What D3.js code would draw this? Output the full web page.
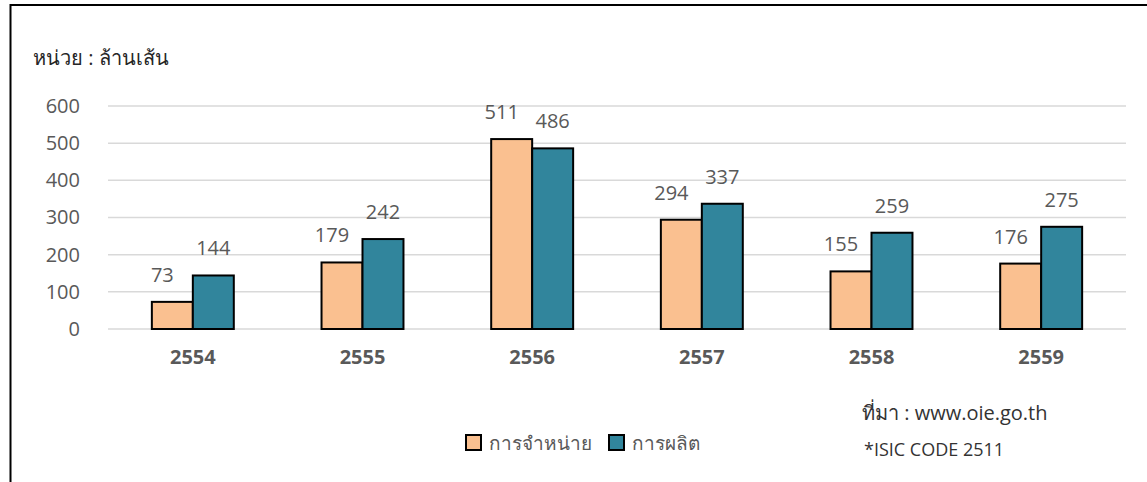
<!DOCTYPE html>
<html>
<head>
<meta charset="utf-8">
<script src="https://cdn.jsdelivr.net/npm/d3@7/dist/d3.min.js"></script>
<style>
  body { margin: 0; background: #fff; }
  svg { display: block; font-family: "Open Sans", "Noto Sans", sans-serif; }
</style>
</head>
<body>
<svg id="chart"></svg>
<script>
const WIDTH = 1147;
const HEIGHT = 482;
const PLOT_LEFT = 108;
const PLOT_RIGHT = 1126;
const PLOT_TOP = 106;
const PLOT_BOTTOM = 329;

// data
const years = ["2554", "2555", "2556", "2557", "2558", "2559"];
const seriesNames = ["การจำหน่าย", "การผลิต"];
const sales = [73, 179, 511, 294, 155, 176];
const production = [144, 242, 486, 337, 259, 275];
const yTicks = [0, 100, 200, 300, 400, 500, 600];
const colors = ["#FAC090", "#31859C"];

const rows = years.map((y, i) => ({ year: y, values: [sales[i], production[i]] }));

const svg = d3.select("#chart").attr("width", WIDTH).attr("height", HEIGHT);

// frame (only top and left edges are visible)
svg.append("line").attr("x1", 10).attr("x2", WIDTH).attr("y1", 5).attr("y2", 5)
   .attr("stroke", "#000").attr("stroke-width", 2);
svg.append("line").attr("x1", 10.5).attr("x2", 10.5).attr("y1", 4).attr("y2", HEIGHT)
   .attr("stroke", "#000").attr("stroke-width", 2);

const xScale = d3.scaleBand()
   .domain(years)
   .range([PLOT_LEFT, PLOT_RIGHT])
   .paddingInner(0.517)
   .paddingOuter(0.2585);
const xInner = d3.scaleBand()
   .domain([0, 1])
   .range([0, xScale.bandwidth()]);
const yScale = d3.scaleLinear()
   .domain([0, 600])
   .range([PLOT_BOTTOM, PLOT_TOP]);

// gridlines
svg.append("g")
   .selectAll("line")
   .data(yTicks)
   .join("line")
   .attr("x1", PLOT_LEFT).attr("x2", PLOT_RIGHT)
   .attr("y1", d => yScale(d)).attr("y2", d => yScale(d))
   .attr("stroke", "#d9d9d9").attr("stroke-width", 1.5);

// y axis labels
const gy = svg.append("g")
   .attr("transform", `translate(${PLOT_LEFT - 28},0)`)
   .call(d3.axisLeft(yScale).tickValues(yTicks).tickSize(0).tickPadding(0));
gy.select(".domain").remove();
gy.selectAll("text")
   .attr("fill", "#595959")
   .attr("font-size", 20)
   .attr("font-family", "Open Sans, sans-serif");

// x axis labels
const gx = svg.append("g")
   .attr("transform", `translate(0,${PLOT_BOTTOM + 21})`)
   .call(d3.axisBottom(xScale).tickSize(0).tickPadding(0));
gx.select(".domain").remove();
gx.selectAll("text")
   .attr("fill", "#595959")
   .attr("font-size", 20)
   .attr("font-weight", "bold")
   .attr("font-family", "Open Sans, sans-serif");

// bars
const groups = svg.append("g")
   .selectAll("g")
   .data(rows)
   .join("g")
   .attr("transform", d => `translate(${xScale(d.year)},0)`);

groups.selectAll("rect")
   .data(d => d.values.map((v, i) => ({ i, v })))
   .join("rect")
   .attr("x", d => xInner(d.i))
   .attr("width", xInner.bandwidth())
   .attr("y", d => yScale(d.v))
   .attr("height", d => yScale(0) - yScale(d.v))
   .attr("fill", d => colors[d.i])
   .attr("stroke", "#000")
   .attr("stroke-width", 2);

groups.selectAll("text.val")
   .data(d => d.values.map((v, i) => ({ i, v })))
   .join("text")
   .attr("class", "val")
   .attr("x", d => xInner(d.i) + xInner.bandwidth() / 2 + (d.i === 0 ? -10 : 0))
   .attr("y", d => yScale(d.v) - 20)
   .attr("text-anchor", "middle")
   .attr("fill", "#595959")
   .attr("font-size", 20)
   .text(d => d.v);

// title
svg.append("text")
   .attr("x", 33).attr("y", 65)
   .attr("font-size", 20)
   .attr("fill", "#262626")
   .text("หน่วย : ล้านเส้น");

// source notes
svg.append("text")
   .attr("x", 862).attr("y", 420)
   .attr("font-size", 20)
   .attr("fill", "#333")
   .text("ที่มา : www.oie.go.th");
svg.append("text")
   .attr("x", 864).attr("y", 456)
   .attr("font-size", 18)
   .attr("fill", "#333")
   .text("*ISIC CODE 2511");

// legend
const legendX = [466, 609];
const legend = svg.append("g")
   .selectAll("g")
   .data(seriesNames)
   .join("g")
   .attr("transform", (d, i) => `translate(${legendX[i]},435)`);
legend.append("rect")
   .attr("width", 15).attr("height", 15)
   .attr("fill", (d, i) => colors[i])
   .attr("stroke", "#000").attr("stroke-width", 2);
legend.append("text")
   .attr("x", 23).attr("y", 15)
   .attr("font-size", 19)
   .attr("fill", "#595959")
   .text(d => d);
</script>
</body>
</html>
